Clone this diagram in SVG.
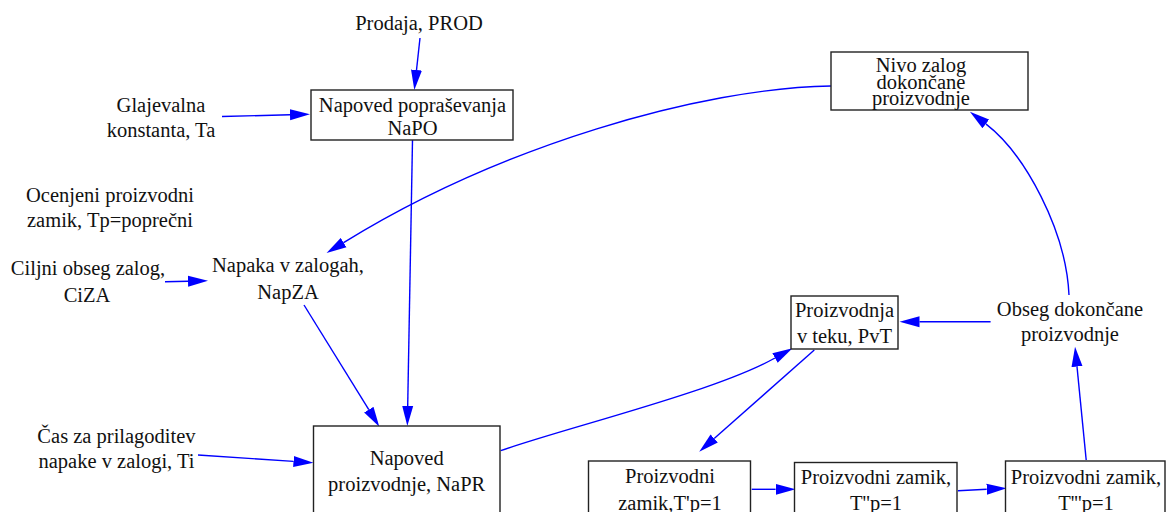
<svg xmlns="http://www.w3.org/2000/svg" width="1168" height="512" viewBox="0 0 1168 512">
  <defs>
    <style>
      .box { fill: #ffffff; stroke: #222222; stroke-width: 1.4; }
      .lbl { font-family: "Liberation Serif", "Times New Roman", serif; font-size: 20.5px; fill: #111111; text-anchor: middle; }
      .edge { fill: none; stroke: #0000ff; stroke-width: 1.4; marker-end: url(#head); }
    </style>
    <marker id="head" markerUnits="userSpaceOnUse" markerWidth="22" markerHeight="12" viewBox="0 -6 22 12" refX="0" refY="0" orient="auto">
      <path d="M0,-5.5 L20,0 L0,5.5 Z" fill="#0000ff"/>
    </marker>
  </defs>

  <rect width="1168" height="512" fill="#ffffff"/>

  <!-- connectors -->
  <g id="connectors">
    <path class="edge" d="M420,38 L416.5,70"/>
    <path class="edge" d="M222,116.5 L290,114.8"/>
    <path class="edge" d="M165,281.7 L188,281.2"/>
    <path class="edge" d="M831,86 C700,88 500,146 343.6,242.6"/>
    <path class="edge" d="M412.5,140 L407.7,406"/>
    <path class="edge" d="M304,305 L368.8,409.7"/>
    <path class="edge" d="M198,455 L293.5,461.4"/>
    <path class="edge" d="M500.7,450.7 C565,428 714,392 775,358"/>
    <path class="edge" d="M814.3,350 L714.2,438.5"/>
    <path class="edge" d="M751.7,489.3 L775.6,489.3"/>
    <path class="edge" d="M958,490.7 L986.7,489.3"/>
    <path class="edge" d="M1086.2,460 L1077,366.6"/>
    <path class="edge" d="M990.6,321.7 L919.5,321.7"/>
    <path class="edge" d="M1069,295 C1066,230 1025,154 985.8,123.9"/>
  </g>

  <!-- free-standing quantities -->
  <g id="prod">
    <text class="lbl" x="419" y="30">Prodaja, PROD</text>
  </g>
  <g id="ta">
    <text class="lbl" x="161" y="111.5">Glajevalna</text>
    <text class="lbl" x="161" y="136.5">konstanta, Ta</text>
  </g>
  <g id="tp">
    <text class="lbl" x="110" y="202">Ocenjeni proizvodni</text>
    <text class="lbl" x="110" y="227">zamik, Tp=poprečni</text>
  </g>
  <g id="ciza">
    <text class="lbl" x="88" y="274.5">Ciljni obseg zalog,</text>
    <text class="lbl" x="87" y="302">CiZA</text>
  </g>
  <g id="napza">
    <text class="lbl" x="288" y="272.3">Napaka v zalogah,</text>
    <text class="lbl" x="288" y="299">NapZA</text>
  </g>
  <g id="ti">
    <text class="lbl" x="116.5" y="443">Čas za prilagoditev</text>
    <text class="lbl" x="116.5" y="468">napake v zalogi, Ti</text>
  </g>
  <g id="obseg">
    <text class="lbl" x="1070" y="316">Obseg dokončane</text>
    <text class="lbl" x="1070" y="340.5">proizvodnje</text>
  </g>

  <!-- boxed stocks -->
  <g id="napo">
    <rect class="box" x="311" y="90" width="202" height="50"/>
    <text class="lbl" x="412.5" y="111.7">Napoved popraševanja</text>
    <text class="lbl" x="412.5" y="135">NaPO</text>
  </g>
  <g id="nivo">
    <rect class="box" x="831" y="52" width="197" height="58"/>
    <text class="lbl" x="921" y="71.7">Nivo zalog</text>
    <text class="lbl" x="921" y="88.5">dokončane</text>
    <text class="lbl" x="921" y="104.5">proizvodnje</text>
  </g>
  <g id="napr">
    <rect class="box" x="313.5" y="426" width="186.5" height="100"/>
    <text class="lbl" x="406.7" y="465">Napoved</text>
    <text class="lbl" x="406.7" y="490.7">proizvodnje, NaPR</text>
  </g>
  <g id="pvt">
    <rect class="box" x="791" y="296" width="107" height="53"/>
    <text class="lbl" x="844.5" y="316.7">Proizvodnja</text>
    <text class="lbl" x="844.5" y="343.3">v teku, PvT</text>
  </g>
  <g id="zamik1">
    <rect class="box" x="588.5" y="461" width="162" height="60"/>
    <text class="lbl" x="670" y="483.3">Proizvodni</text>
    <text class="lbl" x="670" y="510">zamik,T'p=1</text>
  </g>
  <g id="zamik2">
    <rect class="box" x="794.5" y="462.5" width="162.5" height="60"/>
    <text class="lbl" x="876" y="484">Proizvodni zamik,</text>
    <text class="lbl" x="876" y="510">T''p=1</text>
  </g>
  <g id="zamik3">
    <rect class="box" x="1005.5" y="461" width="159.5" height="60"/>
    <text class="lbl" x="1086" y="484">Proizvodni zamik,</text>
    <text class="lbl" x="1086" y="510">T'''p=1</text>
  </g>
</svg>
